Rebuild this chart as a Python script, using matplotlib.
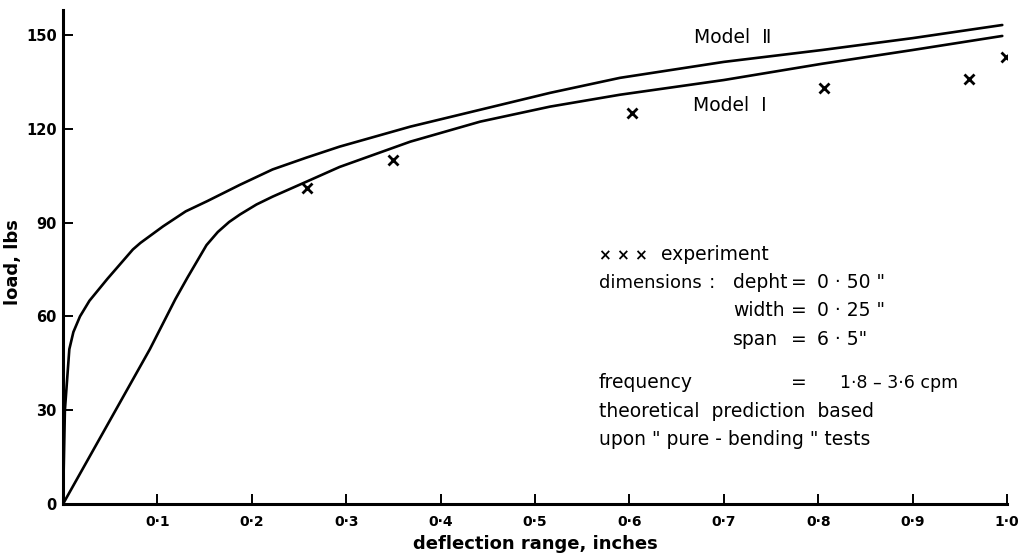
import matplotlib
matplotlib.use("Agg")
import matplotlib.pyplot as plt

# ---- data ----
model1_x = [0, 0.092, 0.119, 0.132, 0.152, 0.164, 0.176, 0.1875, 0.205, 0.222, 0.258, 0.293,
            0.368, 0.442, 0.516, 0.590, 0.700, 0.804, 0.900, 0.995]
model1_y = [0, 49.5, 65.5, 72.5, 82.8, 87.0, 90.2, 92.6, 95.8, 98.3, 103.1, 107.8,
            115.9, 122.3, 127.1, 130.9, 135.6, 140.8, 145.2, 149.7]

model2_x = [0, 0.002, 0.0067, 0.011, 0.018, 0.028, 0.047, 0.074, 0.082, 0.106, 0.130,
            0.153, 0.1875, 0.222, 0.258, 0.293, 0.368, 0.442, 0.516, 0.590,
            0.700, 0.804, 0.900, 0.995]
model2_y = [0, 30, 49.5, 55, 60, 65, 72, 81.4, 83.5, 88.8, 93.6,
            96.9, 102.1, 107, 110.8, 114.3, 120.7, 126.1, 131.5, 136.3,
            141.4, 145.2, 149, 153.2]

exp_x = [0.258, 0.350, 0.603, 0.806, 0.960, 0.999]
exp_y = [101, 110, 125, 133, 136, 143]

xticks = [0.1, 0.2, 0.3, 0.4, 0.5, 0.6, 0.7, 0.8, 0.9, 1.0]
xtick_labels = ["0·1", "0·2", "0·3", "0·4", "0·5", "0·6", "0·7", "0·8", "0·9", "1·0"]
yticks = [0, 30, 60, 90, 120, 150]
ytick_labels = ["0", "30", "60", "90", "120", "150"]

plt.rcParams['font.family'] = ['DejaVu Sans']

fig = plt.figure(figsize=(10.24, 5.56), dpi=100)
ax = fig.add_axes([63 / 1024, 1 - 504 / 556, 944 / 1024, 494 / 556])

ax.plot(model1_x, model1_y, color='black', lw=1.9, solid_capstyle='round',
        solid_joinstyle='round')
ax.plot(model2_x, model2_y, color='black', lw=1.9, solid_capstyle='round',
        solid_joinstyle='round')
ax.plot(exp_x, exp_y, linestyle='none', marker='x', color='black',
        markersize=6.5, mew=2.0)

ax.set_xlim(0, 1.0)
ax.set_ylim(0, 158)
for s in ['top', 'right']:
    ax.spines[s].set_visible(False)
for s in ['left', 'bottom']:
    ax.spines[s].set_linewidth(2.2)

ax.set_xticks(xticks)
ax.set_xticklabels(xtick_labels, fontsize=10, fontweight='bold')
ax.set_yticks(yticks)
ax.set_yticklabels(ytick_labels, fontsize=10.5, fontweight='bold')
ax.tick_params(axis='x', direction='in', length=7, width=1.4, pad=8)
ax.tick_params(axis='y', direction='in', length=7.5, width=1.4, pad=4.5)

ax.set_xlabel("deflection range, inches", fontsize=13, fontweight='bold')
ax.xaxis.set_label_coords(0.5, -0.062)
ax.set_ylabel("load, lbs", fontsize=13, fontweight='bold')
ax.yaxis.set_label_coords(-0.043, 0.49)


def px2x(px):
    return (px - 63) / 944


def py2y(py):
    return (504 - py) * 158 / 494


fs = 13.5
ax.text(px2x(694), py2y(42.7), "Model  Ⅱ", fontsize=fs, va='baseline', ha='left')
ax.text(px2x(693), py2y(110.7), "Model  Ⅰ", fontsize=fs, va='baseline', ha='left')

col0 = px2x(599)
col1 = px2x(733)
col_eq = px2x(799)
col2 = px2x(817)

ax.text(col0, py2y(260), "× × ×", fontsize=11, va='baseline', ha='left', fontweight='bold')
ax.text(px2x(661), py2y(260), "experiment", fontsize=fs, va='baseline', ha='left')
ax.text(col0, py2y(288), "dimensions", fontsize=13, va='baseline', ha='left')
ax.text(px2x(712), py2y(288), ":", fontsize=fs, va='baseline', ha='center')
ax.text(col1, py2y(288), "depht", fontsize=fs, va='baseline', ha='left')
ax.text(col_eq, py2y(288), "=", fontsize=fs, va='baseline', ha='center')
ax.text(col2, py2y(288), '0 · 50 "', fontsize=fs, va='baseline', ha='left')
ax.text(col1, py2y(316), "width", fontsize=fs, va='baseline', ha='left')
ax.text(col_eq, py2y(316), "=", fontsize=fs, va='baseline', ha='center')
ax.text(col2, py2y(316), '0 · 25 "', fontsize=fs, va='baseline', ha='left')
ax.text(col1, py2y(345), "span", fontsize=fs, va='baseline', ha='left')
ax.text(col_eq, py2y(345), "=", fontsize=fs, va='baseline', ha='center')
ax.text(col2, py2y(345), '6 · 5"', fontsize=fs, va='baseline', ha='left')
ax.text(col0, py2y(388), "frequency", fontsize=fs, va='baseline', ha='left')
ax.text(col_eq, py2y(388), "=", fontsize=fs, va='baseline', ha='center')
ax.text(px2x(840), py2y(388), "1·8 – 3·6 cpm", fontsize=12.5, va='baseline', ha='left')
ax.text(col0, py2y(417), "theoretical  prediction  based", fontsize=fs, va='baseline', ha='left')
ax.text(col0, py2y(445), 'upon " pure - bending " tests', fontsize=fs, va='baseline', ha='left')

fig.savefig("out.png", dpi=100, facecolor='white')
